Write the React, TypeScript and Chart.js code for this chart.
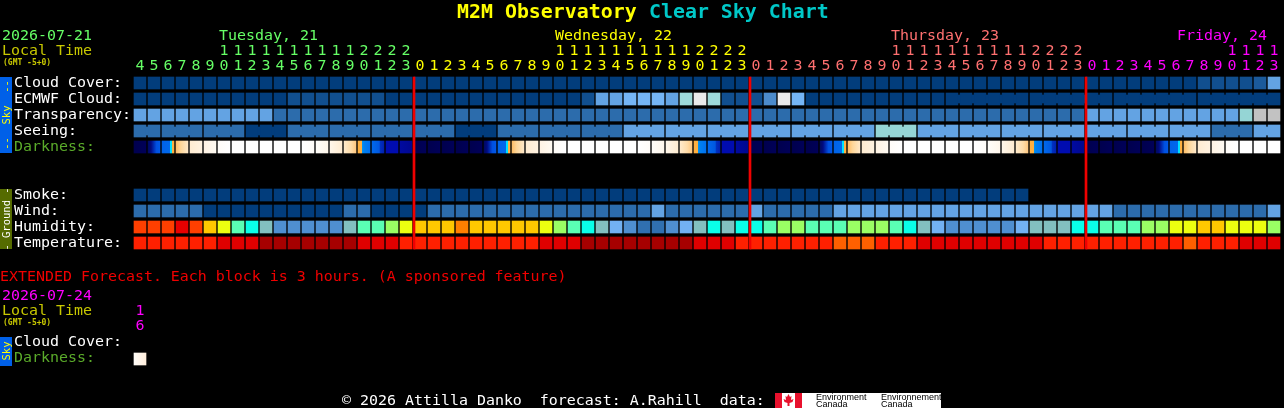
import React, { useEffect, useRef } from "react";
import { Chart, registerables } from "chart.js";

Chart.register(...registerables);

// ---------- categories ----------
const hours = [
  4, 5, 6, 7, 8, 9, 10, 11, 12, 13, 14, 15, 16, 17, 18, 19, 20, 21, 22, 23,
  0, 1, 2, 3, 4, 5, 6, 7, 8, 9, 10, 11, 12, 13, 14, 15, 16, 17, 18, 19, 20, 21, 22, 23,
  0, 1, 2, 3, 4, 5, 6, 7, 8, 9, 10, 11, 12, 13, 14, 15, 16, 17, 18, 19, 20, 21, 22, 23,
  0, 1, 2, 3, 4, 5, 6, 7, 8, 9, 10, 11, 12, 13,
];
const dayFirstCols = [0, 20, 44, 68];
const dayColors = ["#66FF66", "#FFFF00", "#FF7070", "#FF00FF"];
const dayNames = ["Tuesday, 21", "Wednesday, 22", "Thursday, 23", "Friday, 24"];
const dayNameCols = [6, 30, 54, 74.43];
const midnightCols = [20, 44, 68];

const skyRowLabels = ["Cloud Cover:", "ECMWF Cloud:", "Transparency:", "Seeing:", "Darkness:"];
const groundRowLabels = ["Smoke:", "Wind:", "Humidity:", "Temperature:"];

// ---------- palettes ----------
const cloudPalette = ["#023D7C", "#114F8F", "#1B5A9B", "#2767A7", "#4C8BCB", "#63A3E3", "#75B5F5", "#9ED9D9", "#EAEAEA", "#FBFBFB"];
const skyPalette = ["#023D7C", "#2C6CAC", "#63A3E3", "#95D5D5", "#C2C2C2"];
const humidityPalette = ["#E80000", "#FF3F00", "#FF8000", "#FFC800", "#ECFF10", "#9AFF64", "#5AFFB4", "#0AFFE8", "#82C0C0", "#72B1F2", "#4F8FD0", "#3070B0"];
const temperaturePalette = ["#A60000", "#E00000", "#FF2000", "#FF6000"];
const darknessStops: [number, string][][] = [
  [[0, "#00004E"], [1, "#000058"]],
  [[0, "#000A60"], [0.25, "#000A80"], [0.5, "#0030B8"], [0.7, "#0050E0"], [1, "#0058E8"]],
  [[0, "#0062E8"], [0.66, "#0068EC"], [0.67, "#00E0FF"], [0.82, "#00E0FF"], [0.83, "#FFB040"], [1, "#FFB040"]],
  [[0, "#FFBE68"], [0.4, "#FFD79A"], [1, "#FFE8C8"]],
  [[0, "#FFECD2"], [1, "#FFF2E0"]],
  [[0, "#FFF3E4"], [1, "#FFFAF2"]],
  [[0, "#FFFCF8"], [1, "#FFFFFF"]],
  [[0, "#FFFFFF"], [1, "#FFFFFF"]],
  [[0, "#FFFFFF"], [1, "#FFFCF8"]],
  [[0, "#FFFDF9"], [1, "#FFF7EC"]],
  [[0, "#FFF6EA"], [1, "#FFECD2"]],
  [[0, "#FFEACB"], [0.6, "#FFDCA8"], [1, "#FFC880"]],
  [[0, "#FFB040"], [0.3, "#FFB040"], [0.31, "#0098F0"], [0.5, "#0080F0"], [1, "#0070F0"]],
  [[0, "#0068EC"], [0.6, "#0058E0"], [0.7, "#0030C0"], [1, "#0020B0"]],
  [[0, "#000CB0"], [1, "#000CB0"]],
  [[0, "#000AA0"], [1, "#000890"]],
];
const extendedStops: [number, string][] = [[0, "#FFFDF8"], [1, "#FFEEDC"]];

// ---------- series (level per hourly column) ----------
const cloudCover = [
  0, 0, 0, 0, 0, 0, 0, 0, 0, 0,
  0, 0, 0, 0, 0, 0, 0, 0, 0, 0,
  0, 0, 0, 0, 0, 0, 0, 0, 0, 0,
  0, 0, 0, 0, 0, 0, 0, 0, 0, 0,
  0, 0, 0, 0, 0, 0, 0, 0, 0, 0,
  0, 0, 0, 0, 0, 0, 0, 0, 0, 0,
  0, 0, 0, 0, 0, 0, 0, 0, 0, 0,
  0, 0, 0, 0, 0, 0, 1, 1, 1, 1,
  2, 5,
];
const ecmwfCloud = [
  0, 0, 0, 0, 0, 0, 0, 0, 0, 0,
  0, 1, 1, 1, 1, 1, 1, 1, 0, 0,
  0, 0, 0, 0, 0, 0, 0, 0, 0, 0,
  0, 0, 1, 5, 5, 6, 6, 6, 5, 7,
  8, 7, 1, 1, 1, 4, 8, 6, 0, 0,
  0, 0, 0, 0, 0, 0, 0, 0, 0, 0,
  0, 0, 0, 0, 0, 0, 0, 0, 0, 0,
  0, 0, 0, 0, 0, 0, 0, 0, 0, 0,
  0, 0,
];
const transparency = [
  2, 2, 2, 2, 2, 2, 2, 2, 2, 2,
  1, 1, 1, 1, 1, 1, 1, 1, 1, 1,
  1, 1, 1, 1, 1, 1, 1, 1, 1, 1,
  1, 1, 1, 1, 1, 1, 1, 1, 1, 1,
  1, 1, 1, 1, 1, 1, 1, 1, 1, 1,
  1, 1, 1, 1, 1, 1, 1, 1, 1, 1,
  1, 1, 1, 1, 1, 1, 1, 1, 2, 2,
  2, 2, 2, 2, 2, 2, 2, 2, 2, 3,
  4, 4,
];
const seeing = [
  1, 1, 1, 1, 1, 1, 1, 1, 0, 0,
  0, 1, 1, 1, 1, 1, 1, 1, 1, 1,
  1, 1, 1, 0, 0, 0, 1, 1, 1, 1,
  1, 1, 1, 1, 1, 2, 2, 2, 2, 2,
  2, 2, 2, 2, 2, 2, 2, 2, 2, 2,
  2, 2, 2, 3, 3, 3, 2, 2, 2, 2,
  2, 2, 2, 2, 2, 2, 2, 2, 2, 2,
  2, 2, 2, 2, 2, 2, 2, 1, 1, 1,
  2, 2,
];
const darkness = [
  0, 1, 2, 3, 4, 5, 6, 7, 7, 7,
  7, 7, 8, 9, 10, 11, 12, 13, 14, 15,
  0, 0, 0, 0, 0, 1, 2, 3, 4, 5,
  6, 7, 7, 7, 7, 7, 8, 9, 10, 11,
  12, 13, 14, 15, 0, 0, 0, 0, 0, 1,
  2, 3, 4, 5, 6, 7, 7, 7, 7, 7,
  8, 9, 10, 11, 12, 13, 14, 15, 0, 0,
  0, 0, 0, 1, 2, 3, 4, 5, 6, 7,
  7, 7,
];
const smoke = [
  0, 0, 0, 0, 0, 0, 0, 0, 0, 0,
  0, 0, 0, 0, 0, 0, 0, 0, 0, 0,
  0, 0, 0, 0, 0, 0, 0, 0, 0, 0,
  0, 0, 0, 0, 0, 0, 0, 0, 0, 0,
  0, 0, 0, 0, 0, 0, 0, 0, 0, 0,
  0, 0, 0, 0, 0, 0, 0, 0, 0, 0,
  0, 0, 0, 0,
];
const wind = [
  1, 1, 1, 1, 1, 0, 0, 0, 0, 0,
  0, 0, 0, 0, 0, 1, 1, 0, 0, 0,
  0, 1, 1, 1, 1, 1, 1, 1, 1, 1,
  1, 1, 1, 1, 1, 1, 1, 2, 1, 1,
  1, 1, 1, 1, 2, 1, 1, 1, 1, 1,
  2, 2, 2, 2, 2, 2, 2, 2, 2, 2,
  2, 2, 2, 2, 2, 2, 2, 2, 2, 2,
  1, 1, 1, 1, 1, 1, 1, 1, 1, 1,
  1, 2,
];
const humidity = [
  1, 1, 1, 0, 1, 3, 4, 6, 7, 8,
  10, 10, 10, 10, 10, 8, 6, 6, 5, 4,
  3, 3, 3, 2, 3, 3, 3, 3, 3, 4,
  5, 6, 7, 8, 9, 10, 11, 11, 10, 9,
  8, 7, 8, 7, 7, 6, 5, 5, 6, 6,
  6, 5, 5, 5, 6, 7, 8, 9, 10, 10,
  10, 10, 10, 9, 8, 8, 8, 7, 7, 6,
  6, 6, 5, 5, 4, 4, 3, 3, 4, 4,
  4, 5,
];
const temperature = [
  2, 2, 2, 2, 2, 2, 1, 1, 1, 0,
  0, 0, 0, 0, 0, 0, 1, 1, 1, 2,
  2, 2, 2, 2, 2, 2, 2, 2, 2, 1,
  1, 1, 0, 0, 0, 0, 0, 0, 0, 0,
  1, 1, 1, 2, 2, 2, 2, 2, 2, 2,
  3, 3, 3, 2, 2, 2, 1, 1, 1, 1,
  1, 1, 1, 1, 1, 2, 2, 2, 2, 2,
  2, 2, 2, 2, 2, 3, 2, 2, 2, 1,
  1, 1,
];
// Blocks of a coarser model: consecutive cells inside a block are joined.
const seeingBlockStarts = [0, 2, 5, 8, 11, 14, 17, 20, 23, 26, 29, 32, 35, 38, 41, 44, 47, 50, 53, 56, 59, 62, 65, 68, 71, 74, 77, 80];
const ecmwfBlockStarts = [58, 64, 70, 76];
const extendedHours = ["1", "6"];

const MONO = '"DejaVu Sans Mono", monospace';
const BODY = `14.95px ${MONO}`;
const CELL_FRACTION = 0.75;
const ROW = { cloud: 0, ecmwf: 1, transp: 2, seeing: 3, dark: 4, smoke: 7, wind: 8, humidity: 9, temp: 10, extDark: 17.25 };

function cellDataset(label: string, values: number[], row: number, palette: string[]) {
  return {
    label,
    order: 3,
    barThickness: 12,
    grouped: false,
    data: values.map((_, i) => ({ x: i, y: [row, row + CELL_FRACTION] })),
    backgroundColor: (c: any) => palette[values[c.dataIndex]] ?? "#000",
  };
}

function gradientFill(c: any, stops: [number, string][]) {
  const sx = c.chart.scales.x;
  const ix = c.raw ? c.raw.x : 0;
  const left = sx.getPixelForValue(ix) - 6;
  if (!Number.isFinite(left)) return stops[0][1];
  const g = c.chart.ctx.createLinearGradient(left, 0, left + 12, 0);
  stops.forEach(([p, col]) => g.addColorStop(p, col));
  return g;
}

function linkDataset(label: string, values: number[], starts: number[], row: number, palette: string[]) {
  const links: { x: number; y: number[]; level: number }[] = [];
  starts.forEach((s, k) => {
    const end = k + 1 < starts.length ? starts[k + 1] : values.length;
    for (let i = s; i < end - 1; i++) {
      links.push({ x: i + 0.5, y: [row + 2 / 16, row + 10 / 16], level: values[i] });
    }
  });
  return {
    label,
    order: 3,
    barThickness: 2,
    grouped: false,
    data: links,
    backgroundColor: (c: any) => palette[c.raw ? c.raw.level : 0],
  };
}

function App() {
  const ref = useRef<HTMLCanvasElement | null>(null);

  useEffect(() => {
    const canvas = ref.current;
    if (!canvas) return;

    const textPlugin = {
      id: "cscText",
      beforeDraw(chart: any) {
        const { ctx, width, height } = chart;
        ctx.save();
        ctx.fillStyle = "#000";
        ctx.fillRect(0, 0, width, height);
        ctx.restore();
      },
      afterDraw(chart: any) {
        const { ctx, scales } = chart;
        const sx = scales.x;
        const sy = scales.y;
        const text = (s: string, x: number, y: number, color: string, font = BODY, align: CanvasTextAlign = "left") => {
          ctx.font = font;
          ctx.fillStyle = color;
          ctx.textAlign = align;
          ctx.textBaseline = "alphabetic";
          ctx.fillText(s, x, y);
        };
        const vertical = (s: string, cx: number, cy: number, color: string) => {
          ctx.save();
          ctx.translate(cx, cy);
          ctx.rotate(-Math.PI / 2);
          text(s, 0, 0, color, `10.5px ${MONO}`, "center");
          ctx.restore();
        };
        const rowTop = (r: number) => sy.getPixelForValue(r);
        ctx.save();

        // title
        const titleFont = `bold 19.9px ${MONO}`;
        text("M2M Observatory", 457, 18, "#FFFF00", titleFont);
        text("Clear Sky Chart", 649, 18, "#00C8C8", titleFont);

        // header
        text("2026-07-21", 2, 40, "#66FF66");
        text("Local Time", 2, 55, "#C8C800");
        text("(GMT -5+0)", 3, 65, "#C8C800", `bold 8px ${MONO}`);
        dayNames.forEach((n, i) => {
          text(n, sx.getPixelForValue(dayNameCols[i]) - 6 + 1, 40, dayColors[i]);
        });
        hours.forEach((h, i) => {
          let d = 0;
          dayFirstCols.forEach((f, k) => {
            if (i >= f) d = k;
          });
          const px = sx.getPixelForValue(i);
          if (h >= 10) text(String(Math.floor(h / 10)), px, 55, dayColors[d], BODY, "center");
          text(String(h % 10), px, 70, dayColors[d], BODY, "center");
        });

        // side bars
        ctx.fillStyle = "#0060E8";
        ctx.fillRect(0, rowTop(ROW.cloud), 12, rowTop(ROW.dark + CELL_FRACTION) - rowTop(ROW.cloud));
        vertical("--  Sky  --", 10, 115, "#FFFF00");
        ctx.fillStyle = "#556B00";
        ctx.fillRect(0, rowTop(ROW.smoke), 12, rowTop(ROW.temp + CELL_FRACTION) - rowTop(ROW.smoke));
        vertical("- Ground -", 10, 219, "#FFFFFF");
        ctx.fillStyle = "#0060E8";
        ctx.fillRect(0, 337, 12, 29);
        vertical("Sky", 10, 351, "#FFFF00");

        // row labels
        [ROW.cloud, ROW.ecmwf, ROW.transp, ROW.seeing, ROW.dark].forEach((r, i) => {
          text(skyRowLabels[i], 14, rowTop(r) + 10, skyRowLabels[i] === "Darkness:" ? "#5AAA2A" : "#FFFFFF");
        });
        [ROW.smoke, ROW.wind, ROW.humidity, ROW.temp].forEach((r, i) => {
          text(groundRowLabels[i], 14, rowTop(r) + 10, "#FFFFFF");
        });

        // extended block
        text("EXTENDED Forecast. Each block is 3 hours. (A sponsored feature)", 0, 281, "#F00000");
        text("2026-07-24", 2, 300, "#FF00FF");
        text("Local Time", 2, 315, "#C8C800");
        text("(GMT -5+0)", 3, 325, "#C8C800", `bold 8px ${MONO}`);
        text(extendedHours[0], sx.getPixelForValue(0), 315, "#FF00FF", BODY, "center");
        text(extendedHours[1], sx.getPixelForValue(0), 330, "#FF00FF", BODY, "center");
        text("Cloud Cover:", 14, 346, "#FFFFFF");
        text("Darkness:", 14, 362, "#5AAA2A");

        // footer
        text("© 2026 Attilla Danko  forecast: A.Rahill  data:", 342, 405, "#FFFFFF");
        ctx.fillStyle = "#FFFFFF";
        ctx.fillRect(775, 393, 166, 15);
        ctx.fillStyle = "#E8112D";
        ctx.fillRect(775, 393, 7, 15);
        ctx.fillRect(795, 393, 7, 15);
        const leaf = [[0, -6], [1.5, -3], [3, -4], [2.5, 0], [5, -1], [4, 2], [1, 3], [1, 6], [-1, 6], [-1, 3], [-4, 2], [-5, -1], [-2.5, 0], [-3, -4], [-1.5, -3]];
        ctx.beginPath();
        leaf.forEach(([dx, dy], i) => (i ? ctx.lineTo(788.5 + dx, 400 + dy) : ctx.moveTo(788.5 + dx, 400 + dy)));
        ctx.closePath();
        ctx.fill();
        const logoFont = '9px "Liberation Sans", sans-serif';
        text("Environment", 816, 400, "#000000", logoFont);
        text("Canada", 816, 407, "#000000", logoFont);
        text("Environnement", 881, 400, "#000000", logoFont);
        text("Canada", 881, 407, "#000000", logoFont);
        ctx.restore();
      },
    };

    const chart = new Chart(canvas, {
      type: "bar",
      data: {
        datasets: [
          {
            label: "Midnight",
            order: 1,
            barThickness: 2,
            grouped: false,
            data: midnightCols.map((c) => ({ x: c - 6 / 14, y: [ROW.cloud, ROW.temp + CELL_FRACTION] })),
            backgroundColor: "#F00000",
          },
          linkDataset("ECMWF blocks", ecmwfCloud, ecmwfBlockStarts, ROW.ecmwf, cloudPalette),
          linkDataset("Seeing blocks", seeing, seeingBlockStarts, ROW.seeing, skyPalette),
          cellDataset("Cloud Cover", cloudCover, ROW.cloud, cloudPalette),
          cellDataset("ECMWF Cloud", ecmwfCloud, ROW.ecmwf, cloudPalette),
          cellDataset("Transparency", transparency, ROW.transp, skyPalette),
          cellDataset("Seeing", seeing, ROW.seeing, skyPalette),
          {
            label: "Darkness",
            order: 3,
            barThickness: 12,
            grouped: false,
            data: darkness.map((_, i) => ({ x: i, y: [ROW.dark, ROW.dark + CELL_FRACTION] })),
            backgroundColor: (c: any) => gradientFill(c, darknessStops[darkness[c.dataIndex] ?? 0]),
          },
          cellDataset("Smoke", smoke, ROW.smoke, skyPalette),
          cellDataset("Wind", wind, ROW.wind, skyPalette),
          cellDataset("Humidity", humidity, ROW.humidity, humidityPalette),
          cellDataset("Temperature", temperature, ROW.temp, temperaturePalette),
          {
            label: "Extended Darkness",
            order: 3,
            barThickness: 12,
            grouped: false,
            data: [{ x: 0, y: [ROW.extDark, ROW.extDark + CELL_FRACTION] }],
            backgroundColor: (c: any) => gradientFill(c, extendedStops),
          },
        ] as any,
      },
      options: {
        responsive: false,
        animation: false,
        events: [],
        layout: { padding: 0 },
        plugins: { legend: { display: false }, tooltip: { enabled: false }, title: { display: false } },
        scales: {
          x: { type: "linear", display: false, min: -10, max: (1284 - 140) / 14, offset: false },
          y: { type: "linear", display: false, reverse: true, min: -77 / 16, max: (408 - 77) / 16 },
        },
      } as any,
      plugins: [textPlugin],
    });
    return () => chart.destroy();
  }, []);

  return (
    <div style={{ position: "fixed", left: 0, top: 0, width: 1284, height: 408, background: "#000", overflow: "hidden" }}>
      <canvas ref={ref} width={1284} height={408} style={{ display: "block" }} />
    </div>
  );
}

export default App;
